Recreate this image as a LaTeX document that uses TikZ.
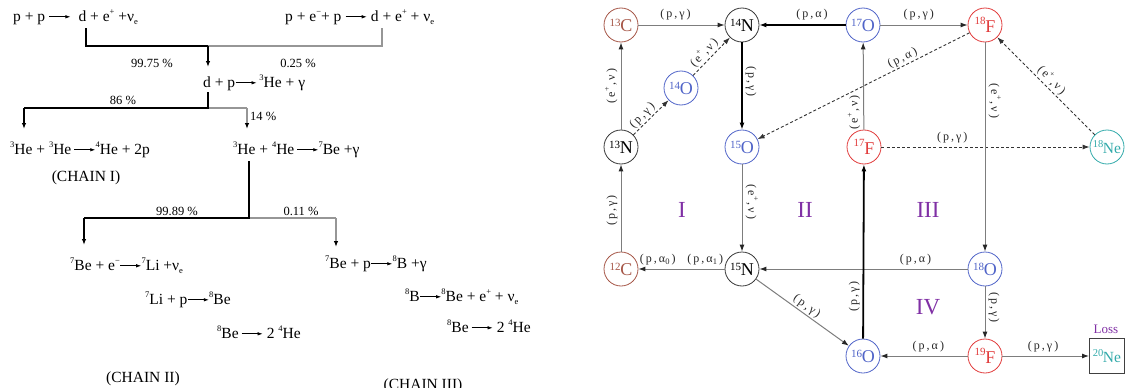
\documentclass[tikz,border=0pt]{standalone}
\usepackage{fontspec}
\setmainfont{Liberation Serif}
\usetikzlibrary{arrows.meta}
\definecolor{cC}{RGB}{165,85,70}
\definecolor{cN}{RGB}{55,55,55}
\definecolor{cO}{RGB}{80,100,200}
\definecolor{cF}{RGB}{225,60,60}
\definecolor{cNe}{RGB}{50,170,170}
\definecolor{cPur}{RGB}{128,48,165}
\definecolor{lgray}{RGB}{125,125,125}
\definecolor{tgray}{RGB}{150,150,150}
\newcommand\ra{\tikz[baseline=-4.2pt]\draw[line width=0.7pt,-{Latex[length=5pt,width=3.5pt]}] (0pt,0pt)--(21pt,0pt);}
\newcommand\up[1]{\raisebox{0.42em}{\fontsize{8.5}{8.5}\selectfont #1}}
\newcommand\dn[1]{\raisebox{-0.2em}{\fontsize{8.5}{8.5}\selectfont #1}}
\newcommand\iso[3][5pt]{\raisebox{#1}{\fontsize{11}{11}\selectfont #2}\kern-0.3pt{\fontsize{18}{18}\selectfont #3}}
\newcommand\lb[2]{(\,#1\,,\,#2\,)}
\newcommand\ep{e\raisebox{0.45em}{\fontsize{8}{8}\selectfont +}}
\tikzset{
  rtext/.style={anchor=base west, inner sep=0pt, font=\fontsize{15.5}{18}\selectfont},
  pct/.style={inner sep=0pt, font=\fontsize{12.5}{14}\selectfont},
  chain/.style={inner sep=0pt, font=\fontsize{15.5}{18}\selectfont},
  tk/.style={line width=2pt, draw=black},
  tn/.style={line width=1.2pt, draw=black},
  tg/.style={line width=1.5pt, draw=tgray},
  tip/.style={-{Latex[length=6pt,width=4.5pt,color=black]}},
  nucl/.style={circle, draw, line width=0.8pt, minimum size=34pt, inner sep=0pt},
  rx/.style={draw=lgray, line width=1pt, -{Latex[length=7pt,width=5pt,color=black!85]}},
  rxk/.style={draw=black, line width=1.8pt, -{Latex[length=7pt,width=5pt]}},
  rxd/.style={draw=black!80, line width=0.9pt, dash pattern=on 3pt off 2.2pt, -{Latex[length=7pt,width=5pt]}},
  lab/.style={font=\fontsize{12}{12}\selectfont, text=black!85, inner sep=1.5pt},
  vlab/.style={lab, anchor=south, outer sep=2pt},
  rom/.style={font=\fontsize{23}{23}\selectfont, text=cPur, inner sep=0pt},
}
\begin{document}
\begin{tikzpicture}[x=1pt,y=-1pt]
\useasboundingbox (0,0) rectangle (1125,388);
% ---------------- pp chain ----------------
\node[rtext] (r1L) at (13,21) {p + p\ \ra\ \ d + e\up{+} +ν\dn{e}};
\node[rtext] (r1R) at (285,21) {p + e\up{−}+ p\ \ra\ d + e\up{+} + ν\dn{e}};
\coordinate (a1) at (86,28);
\coordinate (a2) at (86,46);
\coordinate (j1) at (208,46);
\coordinate (b1) at (382,28);
\coordinate (b2) at (382,46);
\coordinate (j1e) at (208,67);
\draw[tg] (b1) -- (b2) -- (j1);
\draw[tk] (a1) -- (a2) -- (j1);
\draw[tk,tip] (j1) -- (j1e);
\node[pct] (p1) at (152,63) {99.75 \%};
\node[pct] (p2) at (298,63) {0.25 \%};
\node[rtext] (r2) at (203,87) {d + p\ra\,\up{3}He + γ};
\coordinate (j2a) at (208,92);
\coordinate (j2) at (208,108);
\coordinate (c1) at (24,108);
\coordinate (c1e) at (24,129);
\coordinate (d1) at (247,108);
\coordinate (d1e) at (247,129);
\draw[tg] (j2) -- (d1);
\draw[tg,tip] (d1) -- (d1e);
\draw[tn] (j2a) -- (j2) -- (c1);
\draw[tn,tip] (c1) -- (c1e);
\node[pct] (p3) at (123,100) {86 \%};
\node[pct,anchor=west] (p4) at (250,116) {14 \%};
\node[rtext] (r3L) at (10,154) {\up{3}He + \up{3}He\,\ra\up{4}He + 2p};
\node[rtext] (r3R) at (233,154) {\up{3}He + \up{4}He\,\ra\up{7}Be +γ};
\node[chain] (ch1) at (86,178) {(CHAIN I)};
\coordinate (e0) at (249,161);
\coordinate (e1) at (249,218);
\coordinate (e2) at (84,218);
\coordinate (e2e) at (84,245);
\coordinate (f1) at (336,218);
\coordinate (f1e) at (336,247);
\draw[tg] (e1) -- (f1);
\draw[tg,tip] (f1) -- (f1e);
\draw[tk] (e0) -- (e1) -- (e2);
\draw[tk,tip] (e2) -- (e2e);
\node[pct] (p5) at (177,211) {99.89 \%};
\node[pct] (p6) at (301,211) {0.11 \%};
\node[rtext] (r4L) at (70,270) {\up{7}Be + e\up{−}\ra\up{7}Li +ν\dn{e}};
\node[rtext] (r4R) at (325,268) {\up{7}Be + p\ra\up{8}B +γ};
\node[rtext] (r5L) at (145,304) {\up{7}Li + p\ra\up{8}Be};
\node[rtext] (r5R) at (405,301) {\up{8}B\ra\up{8}Be + e\up{+} + ν\dn{e}};
\node[rtext] (r6L) at (217,338) {\up{8}Be\,\ra\ 2 \up{4}He};
\node[rtext] (r6R) at (447,332) {\up{8}Be\,\ra\ 2 \up{4}He};
\node[chain] (ch2) at (143,379) {(CHAIN II)};
\node[chain] (ch3) at (423,386) {(CHAIN III)};
% ---------------- CNO cycles ----------------
\node[nucl, draw=cC, text=cC] (C13) at (621,25) {\iso{13}{C}};
\node[nucl, draw=cN, text=black] (N14) at (742,25) {\iso{14}{N}};
\node[nucl, draw=cO, text=cO] (O17) at (863,25) {\iso{17}{O}};
\node[nucl, draw=cF, text=cF] (F18) at (985,25) {\iso[8pt]{18}{F}};
\node[nucl, draw=cO, text=cO] (O14) at (681,88) {\iso{14}{O}};
\node[nucl, draw=cN, text=black] (N13) at (621,147) {\iso{13}{N}};
\node[nucl, draw=cO, text=cO] (O15) at (742,147) {\iso{15}{O}};
\node[nucl, draw=cF, text=cF] (F17) at (864,147) {\iso[8pt]{17}{F}};
\node[nucl, draw=cNe, text=cNe] (Ne18) at (1107,147) {\raisebox{6pt}{\fontsize{10.5}{10.5}\selectfont 18}\kern-0.5pt{\fontsize{15.5}{15.5}\selectfont Ne}};
\node[nucl, draw=cC, text=cC] (C12) at (621,269) {\iso{12}{C}};
\node[nucl, draw=cN, text=black] (N15) at (742,269) {\iso{15}{N}};
\node[nucl, draw=cO, text=cO] (O18) at (985,269) {\iso{18}{O}};
\node[nucl, draw=cO, text=cO] (O16) at (863,356) {\iso{16}{O}};
\node[nucl, draw=cF, text=cF] (F19) at (985,356) {\iso[8pt]{19}{F}};
\node[draw=black!75, line width=0.9pt, minimum size=35pt, inner sep=0pt, text=cNe] (Ne20) at (1107,356) {\raisebox{6pt}{\fontsize{10.5}{10.5}\selectfont 20}\kern-0.5pt{\fontsize{15.5}{15.5}\selectfont Ne}};
\node[font=\fontsize{13}{13}\selectfont, text=cPur, inner sep=0pt] (loss) at (1106,329) {Loss};
\node[rom] (R1) at (682,210) {I};
\node[rom] (R2) at (805,210) {II};
\node[rom] (R3) at (928,210) {III};
\node[rom] (R4) at (928,307) {IV};
% edges
\draw[rx] (C13) -- node[lab, pos=0.43, above=3pt] {\lb{p}{γ}} (N14);
\draw[rxk] (O17) -- node[lab, pos=0.39, above=3pt] {\lb{p}{α}} (N14);
\draw[rx] (O17) -- node[lab, pos=0.44, above=3pt] {\lb{p}{γ}} (F18);
\draw[rxk] (N14) -- node[vlab, pos=0.45, rotate=-90] {\lb{p}{γ}} (O15);
\draw[rx] (N13) -- node[vlab, pos=0.5, rotate=90] {\lb{\ep}{ν}} (C13);
\draw[rxd] (N13) -- node[lab, pos=0.4, sloped, above] {\lb{p}{γ}} (O14);
\draw[rxd] (O14) -- node[lab, pos=0.45, sloped, above] {\lb{\ep}{ν}} (N14);
\draw[rxd] (F18) -- node[lab, pos=0.3, sloped, above] {\lb{p}{α}} (O15);
\draw[rx] (F17) -- node[vlab, pos=0.2, rotate=90] {\lb{\ep}{ν}} (O17);
\draw[rxd] (F17) -- node[lab, pos=0.34, above=2pt] {\lb{p}{γ}} (Ne18);
\draw[rxd] (Ne18) -- node[lab, pos=0.5, sloped, above] {\lb{\ep}{ν}} (F18);
\draw[rx] (F18) -- node[vlab, pos=0.28, rotate=-90] {\lb{\ep}{ν}} (O18);
\draw[rx] (O15) -- node[vlab, pos=0.43, rotate=-90] {\lb{\ep}{ν}} (N15);
\draw[rx] (C12) -- node[vlab, pos=0.47, rotate=90] {\lb{p}{γ}} (N13);
\draw[rx] (N15) -- node[lab, pos=0.5, above=2pt] {\lb{p}{α\dn{0}}\quad\lb{p}{α\dn{1}}} (C12);
\draw[rx] (O18) -- node[lab, pos=0.25, above=2pt] {\lb{p}{α}} (N15);
\draw[rx] (N15) -- node[lab, pos=0.5, sloped, above] {\lb{p}{γ}} (O16);
\draw[rxk] (O16) -- node[vlab, pos=0.24, rotate=90] {\lb{p}{γ}} (F17);
\draw[rx] (O18) -- node[vlab, pos=0.4, rotate=-90] {\lb{p}{γ}} (F19);
\draw[rx] (F19) -- node[lab, pos=0.45, above=2pt] {\lb{p}{α}} (O16);
\draw[rx] (F19) -- node[lab, pos=0.47, above=2pt] {\lb{p}{γ}} (Ne20);
\end{tikzpicture}
\end{document}
